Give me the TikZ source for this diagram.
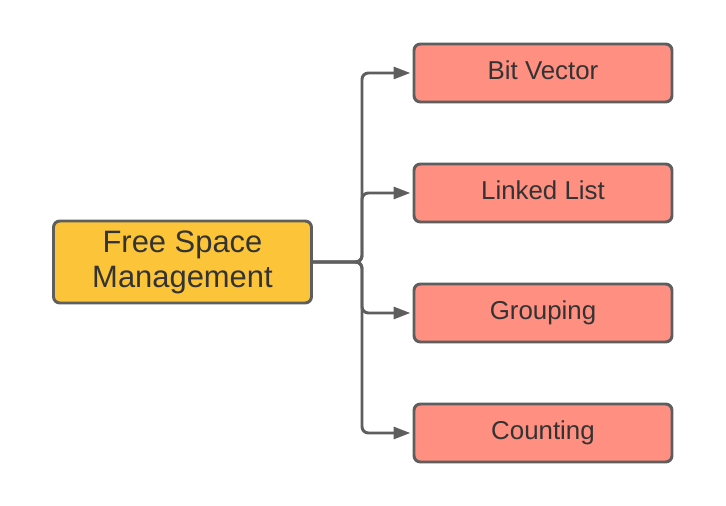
\documentclass[tikz,border=0pt]{standalone}
\usepackage{fontspec}
\setmainfont{Liberation Sans}
\usepackage{tikz}
\usetikzlibrary{positioning}
\usetikzlibrary{arrows.meta}
\definecolor{rootfill}{HTML}{FCC438}
\definecolor{leaffill}{HTML}{FF8F80}
\definecolor{edgegray}{HTML}{5E5E5E}
\definecolor{textgray}{HTML}{333333}

\begin{document}
\begin{tikzpicture}[
  rootbox/.style={draw=edgegray, line width=2.1pt, fill=rootfill, rounded corners=4.5pt,
    minimum width=6.45cm, minimum height=2.05cm, align=center, text=textgray,
    font=\fontsize{22}{25}\selectfont},
  leafbox/.style={draw=edgegray, line width=2.1pt, fill=leaffill, rounded corners=4.5pt,
    minimum width=6.45cm, minimum height=1.45cm, text=textgray,
    text height=13.5pt, text depth=4.5pt,
    font=\fontsize{18.4}{22}\selectfont},
  conn/.style={draw=edgegray, line width=2.1pt, rounded corners=4.5pt,
    -{Triangle[length=12pt,width=8.5pt]}, shorten >=1.5pt}
]
\useasboundingbox (0,0) rectangle (18.15,-12.65);

\node[rootbox] (fsm) at (4.5625,-6.55) {Free Space\\Management};
\node[leafbox] (bitvec) at (13.575,-1.825) {Bit Vector};
\node[leafbox] (linked) at (13.575,-4.825) {Linked List};
\node[leafbox] (group) at (13.575,-7.825) {Grouping};
\node[leafbox] (count) at (13.575,-10.825) {Counting};

\coordinate (split) at (9.05,-6.55);
\draw[conn] (fsm.east) -- (split) |- (bitvec.west);
\draw[conn] (fsm.east) -- (split) |- (linked.west);
\draw[conn] (fsm.east) -- (split) |- (group.west);
\draw[conn] (fsm.east) -- (split) |- (count.west);
\end{tikzpicture}
\end{document}
